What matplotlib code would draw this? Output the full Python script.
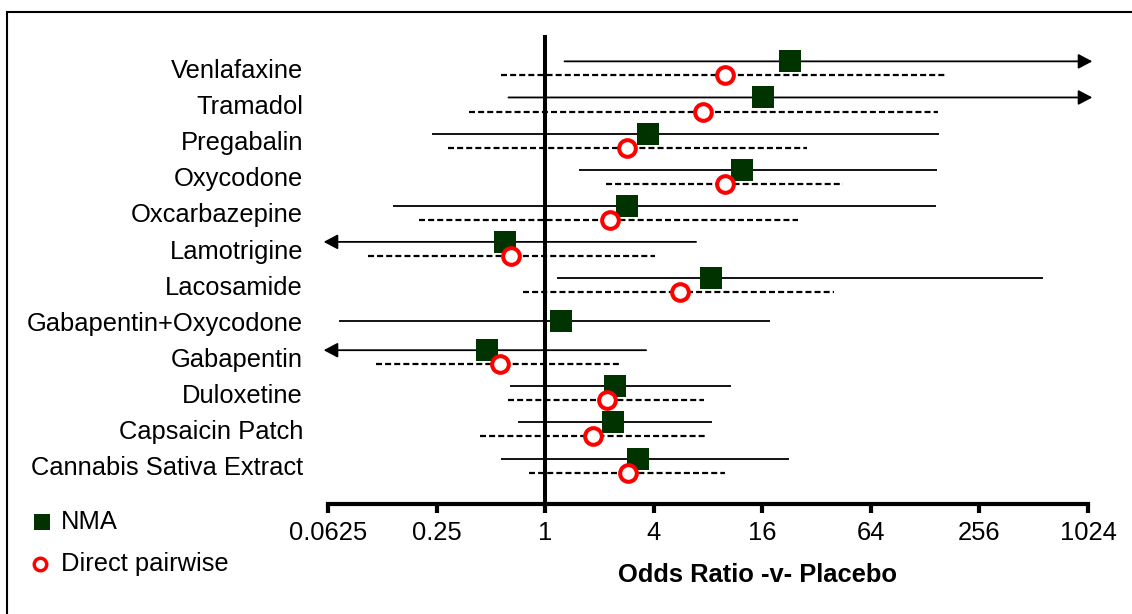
import matplotlib
matplotlib.use("Agg")
import matplotlib.pyplot as plt
from matplotlib.lines import Line2D
from matplotlib.patches import Rectangle

# Odds ratios (with 95% CI) versus placebo; None = interval runs off the scale / no estimate
treatments = ["Venlafaxine", "Tramadol", "Pregabalin", "Oxycodone", "Oxcarbazepine",
              "Lamotrigine", "Lacosamide", "Gabapentin+Oxycodone", "Gabapentin",
              "Duloxetine", "Capsaicin Patch", "Cannabis Sativa Extract"]

nma_or = [22.8, 16.1, 3.72, 12.4, 2.84, 0.60, 8.3, 1.23, 0.475, 2.44, 2.38, 3.28]
nma_lo = [1.28, 0.626, 0.236, 1.55, 0.143, None, 1.16, 0.072, None, 0.637, 0.71, 0.57]
nma_hi = [None, None, 153, 148, 147, 6.87, 575, 17.7, 3.63, 10.7, 8.4, 22.5]

pw_or = [10.0, 7.5, 2.85, 9.9, 2.28, 0.65, 5.6, None, 0.56, 2.20, 1.85, 2.88]
pw_lo = [0.57, 0.377, 0.289, 2.18, 0.20, 0.104, 0.75, None, 0.115, 0.621, 0.435, 0.81]
pw_hi = [168, 150, 28.4, 45, 25.1, 4.07, 40, None, 2.66, 7.6, 7.88, 9.95]

x_ticks = [0.0625, 0.25, 1, 4, 16, 64, 256, 1024]
x_tick_labels = ["0.0625", "0.25", "1", "4", "16", "64", "256", "1024"]

plt.rcParams['font.family'] = ['Liberation Sans', 'DejaVu Sans']
plt.rcParams['font.size'] = 18.4

GREEN = '#003300'
RED = '#ff0000'
OFFSET = 0.39   # direct estimate sits just under the NMA row

W, H = 1132, 614
fig = plt.figure(figsize=(W / 100, H / 100), dpi=100)
ax = fig.add_axes([328 / W, 1 - 504 / H, 760 / W, 469 / H])
ax.set_xscale('log', base=2)
ax.set_xlim(x_ticks[0], x_ticks[-1])
ax.set_ylim(12.26, -0.73)

x_lo, x_hi = ax.get_xlim()


def ci_line(y, lo, hi, lw, **kw):
    # intervals running past the axis limits are drawn as arrows
    if hi is None or lo is None:
        if hi is None:
            start, tip = lo, x_hi * 2 ** 0.08
        else:
            start, tip = hi, x_lo / 2 ** 0.08
        ax.annotate('', xy=(tip, y), xytext=(start, y), annotation_clip=False, zorder=3,
                    arrowprops=dict(arrowstyle='-|>,head_length=0.85,head_width=0.45',
                                    color='black', lw=lw, shrinkA=0, shrinkB=0,
                                    mutation_scale=10))
    else:
        ax.plot([lo, hi], [y, y], color='black', lw=lw, zorder=3, **kw)


ax.axvline(1, color='black', lw=2.9, zorder=2)

for i in range(len(treatments)):
    y_nma = i if pw_or[i] is not None else i + 0.19
    ci_line(y_nma, nma_lo[i], nma_hi[i], 1.3, solid_capstyle='butt')
    ax.plot(nma_or[i], y_nma, marker='s', ms=15.6, color=GREEN, mew=0, zorder=4)
    if pw_or[i] is not None:
        y_pw = i + OFFSET
        ci_line(y_pw, pw_lo[i], pw_hi[i], 1.6, dashes=(2.7, 1.4))
        ax.plot(pw_or[i], y_pw, marker='o', ms=12, mfc='white', mec=RED, mew=2.9,
                zorder=5, clip_on=False)

ax.set_xticks(x_ticks)
ax.set_xticklabels(x_tick_labels)
ax.minorticks_off()
ax.set_yticks([i + 0.2 for i in range(len(treatments))])
ax.set_yticklabels(treatments)

ax.tick_params(axis='x', direction='out', length=6.5, width=3, pad=6)
ax.tick_params(axis='y', length=0, pad=18)
for side in ['top', 'right', 'left']:
    ax.spines[side].set_visible(False)
ax.spines['bottom'].set_linewidth(3)

fig.text(758 / W, 1 - 575 / H, "Odds Ratio -v- Placebo", ha='center', va='center',
         fontweight='bold')

# legend drawn by hand in the lower-left corner
fig.add_artist(Line2D([42 / W], [1 - 522 / H], marker='s', ms=11.5, color=GREEN, mew=0,
                      transform=fig.transFigure))
fig.add_artist(Line2D([40 / W], [1 - 564 / H], marker='o', ms=9, mfc='white', mec=RED,
                      mew=2.5, transform=fig.transFigure))
fig.text(61 / W, 1 - 522 / H, "NMA", ha='left', va='center')
fig.text(61 / W, 1 - 564 / H, "Direct pairwise", ha='left', va='center')

fig.add_artist(Rectangle((7 / W, -0.1), 1.2, 1 - 12 / H + 0.1, transform=fig.transFigure,
                         fill=False, ec='black', lw=1.5))

fig.savefig('out.png', dpi=100)
